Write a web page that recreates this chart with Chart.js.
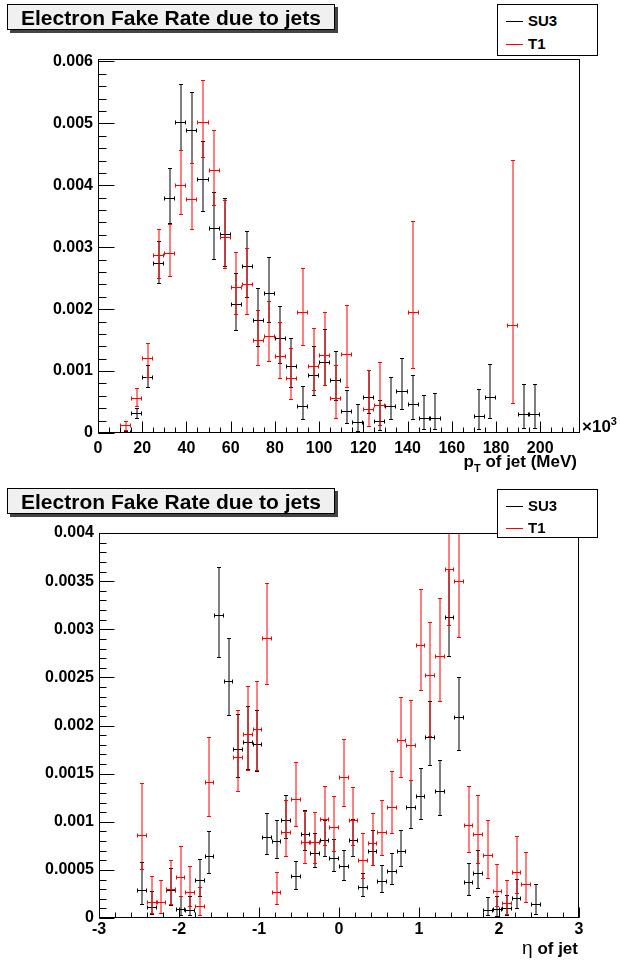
<!DOCTYPE html>
<html>
<head>
<meta charset="utf-8">
<script src="https://cdn.jsdelivr.net/npm/chart.js@4.4.0/dist/chart.umd.min.js"></script>
<style>
  body { margin: 0; background: #fff; }
  #page { position: relative; width: 620px; height: 962px; font-family: 'Liberation Sans', Arial, sans-serif; color: #000; }
  canvas { position: absolute; left: 0; }
  .title { position: absolute; left: 7px; width: 326px; height: 24px; background: #f0f0f0; border: 1px solid #000;
           box-shadow: 3px 3px 0 #444; font-weight: bold; font-size: 21px; line-height: 25px; text-align: center; }
  .legend { position: absolute; left: 497px; width: 99px; background: #fff; border: 1px solid #000; font-weight: bold; font-size: 15px; }
  .entry { position: absolute; left: 30px; line-height: 18px; }
  .entry i { position: absolute; left: -22px; top: 9px; width: 17px; height: 1px; }
  .axt { position: absolute; font-weight: bold; font-size: 17px; white-space: nowrap; line-height: 18px; }
  .axt sub { font-size: 11px; vertical-align: -5px; line-height: 0; }
  .axt sup { font-size: 11px; vertical-align: 7px; line-height: 0; }
</style>
</head>
<body>
<div id="page">
  <canvas id="chart-pt" width="620" height="481" style="top:0"></canvas>
  <canvas id="chart-eta" width="620" height="481" style="top:481px"></canvas>

  <div class="title" style="top:4px">Electron Fake Rate due to jets</div>
  <div class="legend" style="top:4px;height:50px">
    <div class="entry" style="top:7px"><i style="background:#000"></i>SU3</div>
    <div class="entry" style="top:30px"><i style="background:#f00"></i>T1</div>
  </div>
  <div class="axt" style="right:43px;top:453px">p<sub>T</sub> of jet (MeV)</div>
  <div class="axt" style="left:582px;top:418px">×10<sup>3</sup></div>

  <div class="title" style="top:488px">Electron Fake Rate due to jets</div>
  <div class="legend" style="top:489px;height:47px">
    <div class="entry" style="top:7px"><i style="background:#000"></i>SU3</div>
    <div class="entry" style="top:29px"><i style="background:#f00"></i>T1</div>
  </div>
  <div class="axt" style="right:42px;top:939px"><span style="font-weight:normal;font-size:19px">η</span> of jet</div>
</div>

<script>
// ---- pT of jet (bin centres, 5 wide) ----
const ptBins = [12.5, 17.5, 22.5, 27.5, 32.5, 37.5, 42.5, 47.5, 52.5, 57.5, 62.5, 67.5, 72.5, 77.5, 82.5, 87.5, 92.5, 97.5, 102.5,
  107.5, 112.5, 117.5, 122.5, 127.5, 132.5, 137.5, 142.5, 147.5, 152.5, 157.5, 162.5, 167.5, 172.5, 177.5, 182.5, 187.5, 192.5, 197.5];
const ptHalfWidth = 2.5;

const su3Pt   = [0.00002, 0.00032, 0.0009, 0.00275, 0.00379, 0.00503, 0.0049, 0.00411, 0.00331, 0.00321, 0.00209, 0.00269, 0.00182,
  0.00226, 0.00153, 0.00108, 0.00043, 0.00094, 0.00115, 0.00085, 0.00035, 0.00018, 0.00058, 0.0002, 0.00043, 0.00068, 0.00047,
  0.00024, 0.00024, null, null, null, 0.00028, 0.00058, null, null, 0.00031, 0.00031];
const su3PtLo = [0.0, 0.00024, 0.00075, 0.00242, 0.00339, 0.00457, 0.00436, 0.00358, 0.00281, 0.0027, 0.00167, 0.0022, 0.00141,
  0.00179, 0.00113, 0.00075, 0.00023, 0.00062, 0.00078, 0.00054, 0.00016, 0.00004, 0.00032, 0.00005, 0.00022, 0.00038, 0.00022,
  0.00006, 0.00006, null, null, null, 0.00006, 0.00024, null, null, 0.00008, 0.00008];
const su3PtHi = [0.00004, 0.0004, 0.0011, 0.0031, 0.00428, 0.00563, 0.0055, 0.00471, 0.0039, 0.0038, 0.00258, 0.00327, 0.00234,
  0.00284, 0.00205, 0.00153, 0.00076, 0.0014, 0.00168, 0.00132, 0.00069, 0.00047, 0.00102, 0.00054, 0.0009, 0.00121, 0.00094,
  0.00062, 0.00064, null, null, null, 0.00071, 0.00112, null, null, 0.00079, 0.00079];

const t1Pt   = [0.000135, 0.000565, 0.00121, 0.00287, 0.00291, 0.00401, 0.00378, 0.00502, 0.00424, 0.00316, 0.00236, 0.00241, 0.00151,
  0.00156, 0.00125, 0.00089, 0.00195, 0.00109, 0.00126, 0.00056, 0.00127, null, 0.00039, 0.00045, null, null, 0.00196,
  null, null, null, null, null, null, null, null, 0.00175, null, null];
const t1PtLo = [0.00005, 0.00044, 0.00091, 0.00251, 0.00254, 0.00354, 0.0033, 0.00446, 0.00369, 0.00266, 0.00192, 0.00192, 0.0011,
  0.00116, 0.00089, 0.00055, 0.00142, 0.00069, 0.00078, 0.00024, 0.00075, null, 0.00012, 0.00013, null, null, 0.00105,
  null, null, null, null, null, null, null, null, 0.00048, null, null];
const t1PtHi = [0.0002, 0.00073, 0.00146, 0.00329, 0.00337, 0.00457, 0.00436, 0.0057, 0.0049, 0.00377, 0.00292, 0.00299, 0.00199,
  0.00213, 0.0018, 0.00137, 0.00267, 0.0017, 0.00195, 0.0011, 0.00207, null, 0.00102, 0.00115, null, null, 0.00342,
  null, null, null, null, null, null, null, null, 0.00441, null, null];

const ptTicks = [0, 20, 40, 60, 80, 100, 120, 140, 160, 180, 200];
const ptTickLabels = ['0', '20', '40', '60', '80', '100', '120', '140', '160', '180', '200'];
const ratePtTicks = [0, 0.001, 0.002, 0.003, 0.004, 0.005, 0.006];
const ratePtTickLabels = ['0', '0.001', '0.002', '0.003', '0.004', '0.005', '0.006'];

// ---- eta of jet (bin centres, 0.12 wide) ----
const etaBins = [-2.46, -2.34, -2.22, -2.10, -1.98, -1.86, -1.74, -1.62, -1.50, -1.38, -1.26, -1.14, -1.02, -0.90, -0.78, -0.66,
  -0.54, -0.42, -0.30, -0.18, -0.06, 0.06, 0.18, 0.30, 0.42, 0.54, 0.66, 0.78, 0.90, 1.02, 1.14, 1.26, 1.38, 1.50, 1.62, 1.74,
  1.86, 1.98, 2.10, 2.22, 2.34, 2.46];
const etaHalfWidth = 0.06;

const su3Eta   = [0.000287, 0.000111, null, 0.00029, 0.000094, 0.000087, 0.000391, 0.000648, 0.003148, 0.002466, 0.001756, 0.001832,
  0.001808, 0.000842, 0.000797, 0.001022, 0.000433, 0.000876, 0.000675, 0.000807, 0.000623, 0.000537, 0.000807, 0.000322, 0.0007,
  0.000381, 0.000485, 0.000693, 0.001153, 0.001264, 0.001881, 0.001316, 0.003124, 0.002088, 0.000371, 0.000468, 0.000087, 0.000094,
  0.0001, 0.000208, null, 0.000145];
const su3EtaLo = [0.000149, 0.000045, null, 0.00014, 0.000035, 0.000035, 0.000225, 0.000468, 0.002712, 0.002113, 0.001465, 0.001548,
  0.001524, 0.000668, 0.000623, 0.000831, 0.000301, 0.000703, 0.000526, 0.000648, 0.000485, 0.000398, 0.000648, 0.000225, 0.000554,
  0.000267, 0.000357, 0.000544, 0.000935, 0.001029, 0.001593, 0.001074, 0.002719, 0.001749, 0.000235, 0.000312, 0.000028, 0.000024,
  0.000035, 0.000104, null, 0.000045];
const su3EtaHi = [0.000578, 0.00028, null, 0.00052, 0.000225, 0.000225, 0.000613, 0.0009, 0.003643, 0.002909, 0.00212, 0.002199,
  0.002165, 0.001091, 0.001022, 0.001281, 0.000589, 0.001119, 0.000883, 0.001022, 0.000821, 0.00071, 0.001029, 0.000468, 0.000918,
  0.000547, 0.000675, 0.000918, 0.001437, 0.001558, 0.002251, 0.001645, 0.003626, 0.002504, 0.000571, 0.000703, 0.000215, 0.000232,
  0.000242, 0.000405, null, 0.000353];

const t1Eta   = [0.000866, 0.000166, 0.000163, 0.0003, 0.000426, 0.000267, 0.000128, 0.001413, null, null, 0.001673, 0.001912,
  0.001967, 0.002909, 0.00027, 0.00089, 0.00124, 0.00079, 0.00079, 0.001029, 0.000942, 0.001461, 0.001015, 0.000606, 0.000779,
  0.000894, 0.001153, 0.001846, 0.001801, 0.002833, 0.002521, 0.002726, 0.003626, 0.003498, 0.00097, 0.000876, 0.000658, 0.000284,
  0.000156, 0.000478, 0.000353, null];
const t1EtaLo = [0.000509, 0.000052, 0.000052, 0.00015, 0.000225, 0.000128, 0.000035, 0.001056, null, null, 0.001316, 0.001541,
  0.001534, 0.002435, 0.000149, 0.000648, 0.000959, 0.000571, 0.000571, 0.000762, 0.000693, 0.00116, 0.000762, 0.000416, 0.000554,
  0.000658, 0.000883, 0.001465, 0.001437, 0.002365, 0.001887, 0.002251, 0.003048, 0.002916, 0.000682, 0.000571, 0.000416, 0.000121,
  0.000042, 0.00026, 0.000163, null];
const t1EtaHi = [0.0014, 0.000433, 0.000398, 0.0006, 0.000745, 0.000544, 0.000322, 0.00188, null, null, 0.002165, 0.002407,
  0.002459, 0.00348, 0.000474, 0.001223, 0.001621, 0.001108, 0.001098, 0.001368, 0.001264, 0.001863, 0.001358, 0.000883, 0.001091,
  0.001229, 0.001531, 0.002296, 0.002268, 0.003422, 0.003075, 0.003325, 0.0042, 0.0043, 0.001375, 0.001274, 0.001015, 0.000564,
  0.000398, 0.000848, 0.000682, null];

const etaTicks = [-3, -2, -1, 0, 1, 2, 3];
const etaTickLabels = ['-3', '-2', '-1', '0', '1', '2', '3'];
const rateEtaTicks = [0, 0.0005, 0.001, 0.0015, 0.002, 0.0025, 0.003, 0.0035, 0.004];
const rateEtaTickLabels = ['0', '0.0005', '0.001', '0.0015', '0.002', '0.0025', '0.003', '0.0035', '0.004'];

function points(xs, v, lo, hi) {
  const out = [];
  xs.forEach((x, i) => { if (v[i] !== null) out.push({ x, y: v[i], lo: lo[i], hi: hi[i] }); });
  return out;
}

function steps(from, to, step) {
  const n = Math.floor((to - from) / step + 1e-6);
  return Array.from({ length: n + 1 }, (_, i) => from + i * step);
}

// ROOT-like frame, inward ticks and error crosses
const rootFrame = {
  id: 'rootFrame',
  afterDatasetsDraw(chart, args, o) {
    const { ctx, chartArea: a } = chart;
    const xs = chart.scales.x, ys = chart.scales.y;

    ctx.save();
    ctx.beginPath();
    ctx.rect(a.left, a.top, a.right - a.left, a.bottom - a.top);
    ctx.clip();
    ctx.lineWidth = 1;
    chart.data.datasets.forEach(ds => {
      ctx.strokeStyle = ds.borderColor;
      ds.data.forEach(p => {
        const cx = Math.round(xs.getPixelForValue(p.x));
        const cy = Math.round(ys.getPixelForValue(p.y)) + 0.5;
        const x0 = Math.round(xs.getPixelForValue(p.x - ds.halfWidth)) + 0.5;
        const x1 = Math.round(xs.getPixelForValue(p.x + ds.halfWidth)) - 0.5;
        const yl = Math.round(ys.getPixelForValue(p.lo)) + 0.5;
        const yh = Math.round(ys.getPixelForValue(p.hi)) + 0.5;
        ctx.beginPath();
        ctx.moveTo(x0, cy); ctx.lineTo(x1, cy);
        ctx.moveTo(x0, cy - 2); ctx.lineTo(x0, cy + 2);
        ctx.moveTo(x1, cy - 2); ctx.lineTo(x1, cy + 2);
        ctx.moveTo(cx, yl); ctx.lineTo(cx, yh);
        ctx.moveTo(cx - 2, yl); ctx.lineTo(cx + 2, yl);
        ctx.moveTo(cx - 2, yh); ctx.lineTo(cx + 2, yh);
        ctx.stroke();
      });
    });
    ctx.restore();

    ctx.save();
    ctx.strokeStyle = '#000';
    ctx.lineWidth = 1;
    const L = Math.round(a.left) + 0.5, R = Math.round(a.right) - 0.5;
    const T = Math.round(a.top) + 0.5, B = Math.round(a.bottom) - 0.5;
    ctx.strokeRect(L, T, R - L, B - T);
    ctx.beginPath();
    o.yMinor.forEach(v => {
      const y = Math.round(ys.getPixelForValue(v)) + 0.5;
      ctx.moveTo(L, y); ctx.lineTo(L + o.yMinorLen, y);
    });
    o.yMajor.forEach(v => {
      const y = Math.round(ys.getPixelForValue(v)) + 0.5;
      ctx.moveTo(L, y); ctx.lineTo(L + o.yMajorLen, y);
    });
    o.xMinor.forEach(v => {
      const x = Math.round(xs.getPixelForValue(v)) + 0.5;
      ctx.moveTo(x, B); ctx.lineTo(x, B - o.xMinorLen);
    });
    o.xMajor.forEach(v => {
      const x = Math.round(xs.getPixelForValue(v)) + 0.5;
      ctx.moveTo(x, B); ctx.lineTo(x, B - o.xMajorLen);
    });
    ctx.stroke();
    ctx.restore();
  }
};

const tickFont = { family: "'Liberation Sans', Arial, sans-serif", size: 16, weight: 'bold' };

function makeChart(id, c) {
  return new Chart(document.getElementById(id), {
    type: 'scatter',
    data: {
      datasets: [
        { label: 'SU3', data: points(c.bins, c.su3, c.su3Lo, c.su3Hi), borderColor: '#000', backgroundColor: '#000',
          pointRadius: 0, halfWidth: c.halfWidth },
        { label: 'T1', data: points(c.bins, c.t1, c.t1Lo, c.t1Hi), borderColor: '#f00', backgroundColor: '#f00',
          pointRadius: 0, halfWidth: c.halfWidth }
      ]
    },
    options: {
      responsive: false, animation: false, devicePixelRatio: 1,
      layout: { padding: c.padding },
      plugins: {
        legend: { display: false }, tooltip: { enabled: false },
        rootFrame: c.frame
      },
      scales: {
        x: {
          type: 'linear', min: c.xMin, max: c.xMax, bounds: 'data',
          grid: { display: false, drawTicks: false }, border: { display: false },
          afterBuildTicks: s => { s.ticks = c.xTicks.map(v => ({ value: v })); },
          afterFit: s => { s.height = c.xHeight; },
          ticks: { font: tickFont, color: '#000', padding: c.xPad, autoSkip: false, maxRotation: 0,
                   callback: (v, i) => c.xLabels[i] }
        },
        y: {
          type: 'linear', min: 0, max: c.yMax, bounds: 'data',
          grid: { display: false, drawTicks: false }, border: { display: false },
          afterBuildTicks: s => { s.ticks = c.yTicks.map(v => ({ value: v })); },
          afterFit: s => { s.width = c.yWidth; },
          ticks: { font: tickFont, color: '#000', padding: 5, autoSkip: false,
                   callback: (v, i) => c.yLabels[i] }
        }
      }
    },
    plugins: [rootFrame]
  });
}

makeChart('chart-pt', {
  bins: ptBins, halfWidth: ptHalfWidth,
  su3: su3Pt, su3Lo: su3PtLo, su3Hi: su3PtHi, t1: t1Pt, t1Lo: t1PtLo, t1Hi: t1PtHi,
  xMin: 0, xMax: 218, yMax: 0.00604,
  xTicks: ptTicks, xLabels: ptTickLabels, yTicks: ratePtTicks, yLabels: ratePtTickLabels,
  padding: { top: 59, right: 40, left: 0, bottom: 0 }, xHeight: 48, yWidth: 98, xPad: 6,
  frame: { xMajor: ptTicks, xMinor: steps(0, 218, 5), xMajorLen: 11, xMinorLen: 5,
           yMajor: ratePtTicks, yMinor: steps(0, 0.00604, 0.0002), yMajorLen: 16, yMinorLen: 8 }
});

makeChart('chart-eta', {
  bins: etaBins, halfWidth: etaHalfWidth,
  su3: su3Eta, su3Lo: su3EtaLo, su3Hi: su3EtaHi, t1: t1Eta, t1Lo: t1EtaLo, t1Hi: t1EtaHi,
  xMin: -3, xMax: 3, yMax: 0.004,
  xTicks: etaTicks, xLabels: etaTickLabels, yTicks: rateEtaTicks, yLabels: rateEtaTickLabels,
  padding: { top: 52, right: 41, left: 0, bottom: 0 }, xHeight: 44, yWidth: 99, xPad: 2,
  frame: { xMajor: etaTicks, xMinor: steps(-3, 3, 0.2), xMajorLen: 10, xMinorLen: 5,
           yMajor: rateEtaTicks, yMinor: steps(0, 0.004, 0.0001), yMajorLen: 15, yMinorLen: 7 }
});
</script>
</body>
</html>
